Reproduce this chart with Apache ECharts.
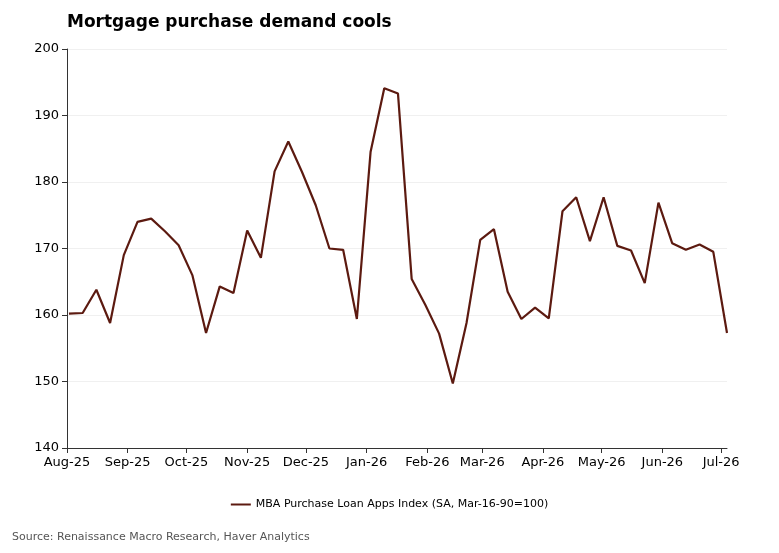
<!DOCTYPE html>
<html>
<head>
<meta charset="utf-8">
<script src="https://cdn.jsdelivr.net/npm/echarts@6/dist/echarts.min.js"></script>
<style>body{margin:0;background:#fff}</style>
</head>
<body>
<div id="main" style="width:779px;height:553px"></div>
<script>
const values = [160.2,160.3,163.8,158.8,169,174,174.5,172.6,170.5,166,157.3,164.3,163.3,172.7,168.6,181.6,186.1,181.5,176.5,170,169.8,159.4,184.5,194.1,193.3,165.4,161.5,157.2,149.7,158.8,171.3,172.9,163.5,159.4,161.1,159.5,175.6,177.7,171.1,177.7,170.4,169.7,164.8,176.9,170.8,169.8,170.6,169.5,157.3];
const monthNames = ['Jan','Feb','Mar','Apr','May','Jun','Jul','Aug','Sep','Oct','Nov','Dec'];

// weekly observations starting 2 Aug 2025
const t0 = Date.UTC(2025, 7, 2);
const data = values.map((v, i) => [t0 + i * 7 * 86400000, v]);

const chart = echarts.init(document.getElementById('main'));
chart.setOption({
  animation: false,
  textStyle: { fontFamily: 'DejaVu Sans' },
  title: { text: 'Mortgage purchase demand cools', left: 62, top: 9,
    textStyle: { fontSize: 17, fontWeight: 'bold', color: '#000' } },
  grid: { left: 67, right: 52, top: 49, bottom: 105 },
  xAxis: {
    type: 'time', min: Date.UTC(2025, 7, 1), max: Date.UTC(2026, 6, 4),
    minInterval: 28 * 86400000, maxInterval: 31 * 86400000,
    axisLine: { lineStyle: { color: '#333' } },
    axisTick: { show: true, lineStyle: { color: '#333' } },
    splitLine: { show: false },
    axisLabel: { color: '#000', fontSize: 13, hideOverlap: false,
      formatter: v => { const d = new Date(v); return monthNames[d.getUTCMonth()] + '-' + String(d.getUTCFullYear()).slice(2); } }
  },
  yAxis: {
    type: 'value', min: 140, max: 200, interval: 10,
    axisLine: { show: true, lineStyle: { color: '#333' } },
    axisTick: { show: true, lineStyle: { color: '#333' } },
    splitLine: { lineStyle: { color: '#f0f0f0' } },
    axisLabel: { color: '#000', fontSize: 13 }
  },
  legend: { bottom: 38, left: 'center', itemWidth: 20, itemHeight: 2, icon: 'rect',
    textStyle: { fontSize: 11, color: '#000' } },
  series: [{
    name: 'MBA Purchase Loan Apps Index (SA, Mar-16-90=100)', type: 'line',
    data: data, showSymbol: false, lineStyle: { color: '#5c1a10', width: 2.2 },
    itemStyle: { color: '#5c1a10' }
  }],
  graphic: [{ type: 'text', left: 12, bottom: 10,
    style: { text: 'Source: Renaissance Macro Research, Haver Analytics', fill: '#555', fontSize: 11, fontFamily: 'DejaVu Sans' } }]
});
</script>
</body>
</html>
